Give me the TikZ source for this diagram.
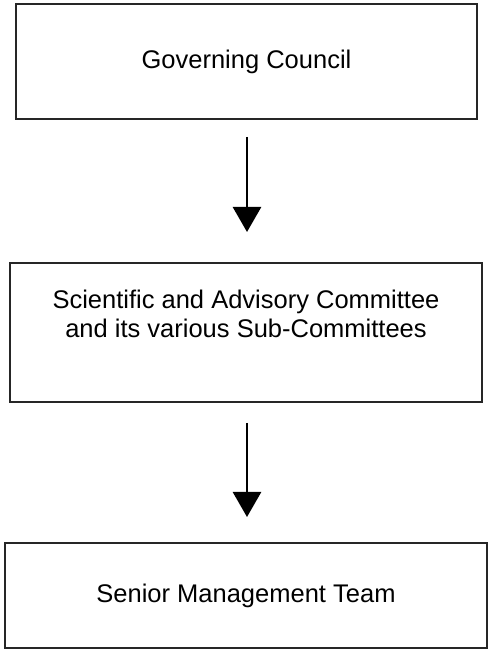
\documentclass[tikz,border=0pt]{standalone}
\usepackage{fontspec}
\setmainfont{Liberation Sans}
\usetikzlibrary{arrows.meta}

\begin{document}
\begin{tikzpicture}[
            x=1pt, y=1pt,
            box/.style={rectangle,draw=black!85,line width=1.7pt,
                minimum width=#1, inner sep=0pt, outer sep=0pt},
            box/.default=470pt,
            lbl/.style={align=center,font=\fontsize{25.5}{29}\selectfont},
            flow/.style={line width=2.7pt,
                -{Triangle[length=25pt,width=28pt]}}
        ]
        \useasboundingbox (0, 0) rectangle (488, 650);
        \node[box=461pt, minimum height=115pt, lbl] (gc) at (246.5, 588.5)
            {Governing Council};
        \node[box=472pt, minimum height=139pt] (sac) at (246, 317.5) {};
        \node[lbl] (sactext) at (246, 336.5)
            {Scientific and Advisory Committee\\and its various Sub-Committees};
        \node[box=482pt, minimum height=105pt, lbl] (smt) at (246, 54.5)
            {Senior Management Team};
        \draw[flow, shorten <=18pt, shorten >=31pt]
            (gc.south -| 247, 0) -- (sac.north -| 247, 0);
        \draw[flow, shorten <=21pt, shorten >=26pt]
            (sac.south -| 247, 0) -- (smt.north -| 247, 0);
    \end{tikzpicture}
\end{document}
